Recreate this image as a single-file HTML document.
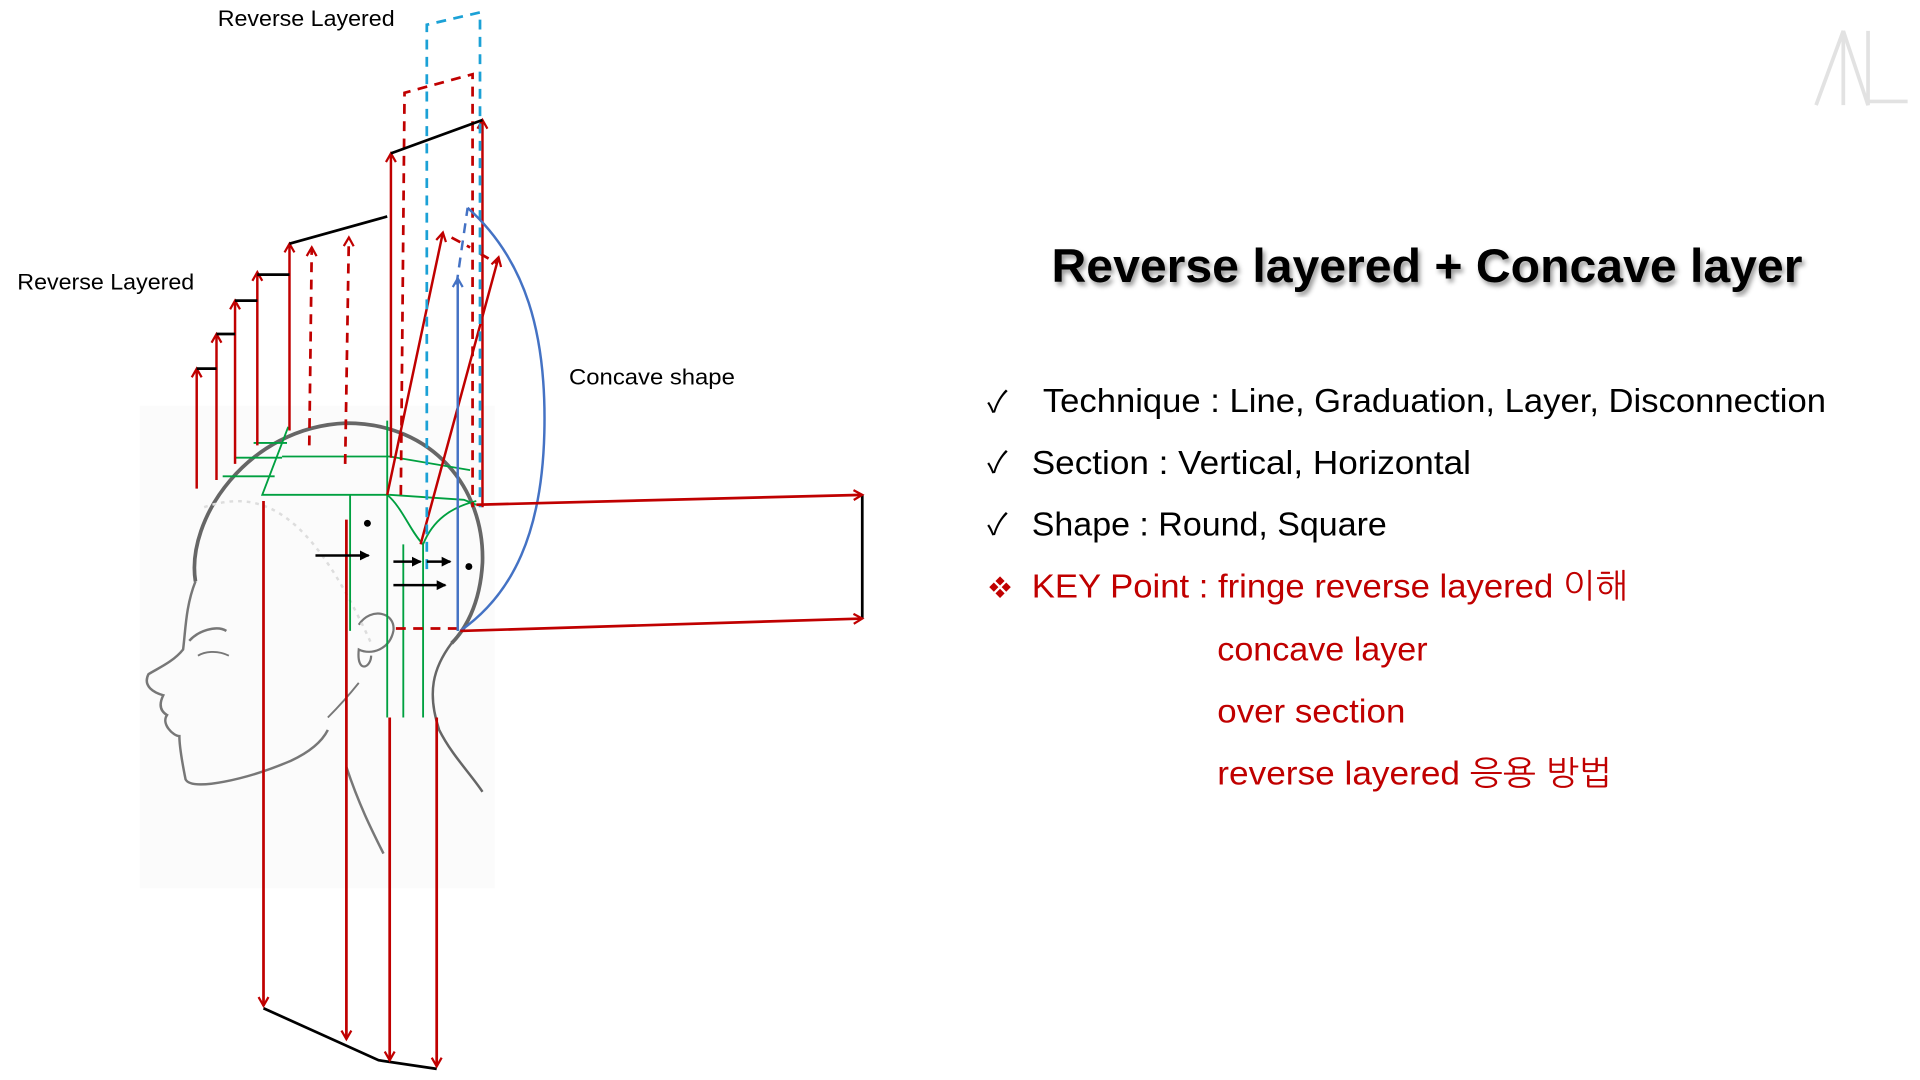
<!DOCTYPE html>
<html><head><meta charset="utf-8"><style>
html,body{margin:0;padding:0;background:#fff;width:1920px;height:1080px;overflow:hidden}
svg{display:block}
text{font-family:"Liberation Sans","NanumGothic","Noto Sans CJK KR",sans-serif}
</style></head><body>
<svg width="1920" height="1080" viewBox="0 0 1552 873" preserveAspectRatio="none" xmlns="http://www.w3.org/2000/svg">
<defs>
<marker id="ar" markerWidth="10" markerHeight="10" refX="8" refY="5" orient="auto" markerUnits="userSpaceOnUse"><path d="M1 1 L8 5 L1 9" fill="none" stroke="#c00000" stroke-width="1.8"/></marker>
<marker id="ab" markerWidth="10" markerHeight="10" refX="8" refY="5" orient="auto" markerUnits="userSpaceOnUse"><path d="M1 1 L8 5 L1 9" fill="none" stroke="#4472c4" stroke-width="1.8"/></marker>
<marker id="ak" markerWidth="8" markerHeight="8" refX="7" refY="4" orient="auto" markerUnits="userSpaceOnUse"><path d="M0 0 L8 4 L0 8 Z" fill="#000"/></marker>
<filter id="sh"><feDropShadow dx="2" dy="3" stdDeviation="2" flood-color="#000" flood-opacity="0.4"/></filter>
</defs>
<rect x="113" y="328" width="287" height="390" fill="#fbfbfb"/>
<!-- head -->
<g fill="none" stroke="#666" stroke-width="3">
<path d="M158 470 C150 420 200 345 280 342 C350 342 392 395 390 455 C388 490 375 510 365 520"/>
<path d="M365 520 C350 540 345 560 355 590 C365 610 380 625 390 640" stroke-width="2"/>
</g>
<g fill="none" stroke="#777" stroke-width="2">
<path d="M158 470 C150 490 150 510 148 525 C140 535 128 540 120 545 C115 555 125 560 132 562 C128 570 130 575 135 578 C130 585 140 595 145 595 C145 605 148 620 150 630 C155 640 200 630 235 615 C250 608 260 600 265 590"/>
<path d="M280 620 C290 650 300 670 310 690"/>
<path d="M183 510 C175 505 160 510 153 518"/>
<path d="M185 530 C175 525 165 527 160 530" stroke-width="1.5"/>
<path d="M290 505 C300 490 320 495 318 510 C315 525 300 530 290 525 C288 545 300 540 300 530" stroke-width="1.8"/>
<path d="M265 580 C275 570 282 562 290 552" stroke-width="1.5"/>
</g>
<path d="M165 410 C210 395 250 410 300 520" fill="none" stroke="#ddd" stroke-width="2" stroke-dasharray="3 4"/>
<!-- green grid -->
<g stroke="#00a040" stroke-width="1.5" fill="none">
<path d="M233 345 L212 400 L315 400"/>
<path d="M205 358 L232 358 M180 385 L222 385 M190 370 L228 370"/>
<path d="M228 369 L315 369 L380 380"/>
<path d="M315 400 L375 404 L385 408"/>
<path d="M283 400 L283 510 M313 400 L313 580 M326 440 L326 580 M342 440 L342 580 M370 410 L370 510 M313 340 L313 400"/>
<path d="M313 400 C325 410 332 430 342 440 C350 420 365 410 385 405"/>
</g>
<!-- red solid up arrows -->
<g stroke="#c00000" stroke-width="2" fill="none" marker-end="url(#ar)">
<path d="M159 395 L159 298"/><path d="M175 388 L175 270"/><path d="M190 375 L190 243"/>
<path d="M208 360 L208 220"/><path d="M234 348 L234 197"/><path d="M316 370 L316 124"/>
<path d="M390 410 L390 97"/>
<path d="M313 400 L358 188"/><path d="M340 440 L403 208"/>
</g>
<!-- red dashed -->
<g stroke="#c00000" stroke-width="2.2" fill="none" stroke-dasharray="8 6">
<path d="M250 360 L252 200" marker-end="url(#ar)"/><path d="M279 375 L282 192" marker-end="url(#ar)"/>
<path d="M324 400 L327 75 L382 60 L382 410"/>
<path d="M320 508 L372 508"/>
<path d="M365 192 L380 200"/><path d="M388 205 L402 213"/>
</g>
<!-- cyan dashed -->
<path d="M345 460 L345 20 L388 10 L388 410" stroke="#1ba1d6" stroke-width="2.2" fill="none" stroke-dasharray="8 6"/>
<!-- blue -->
<path d="M370 510 L370 225" stroke="#4472c4" stroke-width="2" fill="none" marker-end="url(#ab)"/>
<path d="M369 230 L378 168" stroke="#4472c4" stroke-width="2" fill="none" stroke-dasharray="8 6"/>
<path d="M378 168 C425 210 442 270 440 350 C438 430 415 480 372 510" stroke="#4472c4" stroke-width="2" fill="none"/>
<!-- black lines -->
<g stroke="#000" stroke-width="2.2" fill="none">
<path d="M159 298 L175 298 M175 270 L190 270 M190 243 L208 243 M208 222 L234 222"/>
<path d="M234 197 L313 175"/><path d="M316 124 L390 97"/>
<path d="M697 400 L697 500"/>
<path d="M213 815 L306 857 L353 864"/>
</g>
<!-- horizontal red arrows -->
<g stroke="#c00000" stroke-width="2.2" fill="none" marker-end="url(#ar)">
<path d="M385 408 L697 400"/><path d="M372 510 L697 500"/>
<path d="M213 405 L213 813"/><path d="M280 420 L280 840"/><path d="M315 580 L315 857"/><path d="M353 580 L353 862"/>
</g>
<!-- black arrows -->
<g stroke="#000" stroke-width="2" marker-end="url(#ak)">
<path d="M255 449 L298 449"/><path d="M318 454 L340 454"/><path d="M345 454 L364 454"/><path d="M318 473 L360 473"/>
</g>
<circle cx="297" cy="423" r="2.8"/><circle cx="379" cy="458" r="2.8"/>
<!-- labels -->
<g font-size="18" fill="#000">
<text x="176" y="21" textLength="143" lengthAdjust="spacingAndGlyphs">Reverse Layered</text>
<text x="14" y="234" textLength="143" lengthAdjust="spacingAndGlyphs">Reverse Layered</text>
<text x="460" y="311" textLength="134" lengthAdjust="spacingAndGlyphs">Concave shape</text>
</g>
<!-- logo -->
<g stroke="#e2e2e2" stroke-width="3" fill="none">
<path d="M1468 85 L1490 25 L1490 85"/><path d="M1490 25 L1510 85 L1510 25 M1510 82 L1542 82"/>
</g>
<!-- title -->
<text x="850" y="228" font-size="38" font-weight="bold" fill="#000" filter="url(#sh)" textLength="607" lengthAdjust="spacingAndGlyphs">Reverse layered + Concave layer</text>
<g font-size="27" fill="#000">
<text x="798" y="333" font-size="24">✓</text>
<text x="843" y="333" textLength="633" lengthAdjust="spacingAndGlyphs">Technique : Line, Graduation, Layer, Disconnection</text>
<text x="798" y="382" font-size="24">✓</text>
<text x="834" y="383" textLength="355" lengthAdjust="spacingAndGlyphs">Section : Vertical, Horizontal</text>
<text x="798" y="432" font-size="24">✓</text>
<text x="834" y="433" textLength="287" lengthAdjust="spacingAndGlyphs">Shape : Round, Square</text>
</g>
<g font-size="27" fill="#c00000">
<text x="798" y="482" font-size="22">❖</text>
<text x="834" y="483" textLength="482" lengthAdjust="spacingAndGlyphs">KEY Point : fringe reverse layered 이해</text>
<text x="984" y="534" textLength="170" lengthAdjust="spacingAndGlyphs">concave layer</text>
<text x="984" y="584" textLength="152" lengthAdjust="spacingAndGlyphs">over section</text>
<text x="984" y="634" textLength="319" lengthAdjust="spacingAndGlyphs">reverse layered 응용 방법</text>
</g>
</svg>
</body></html>
